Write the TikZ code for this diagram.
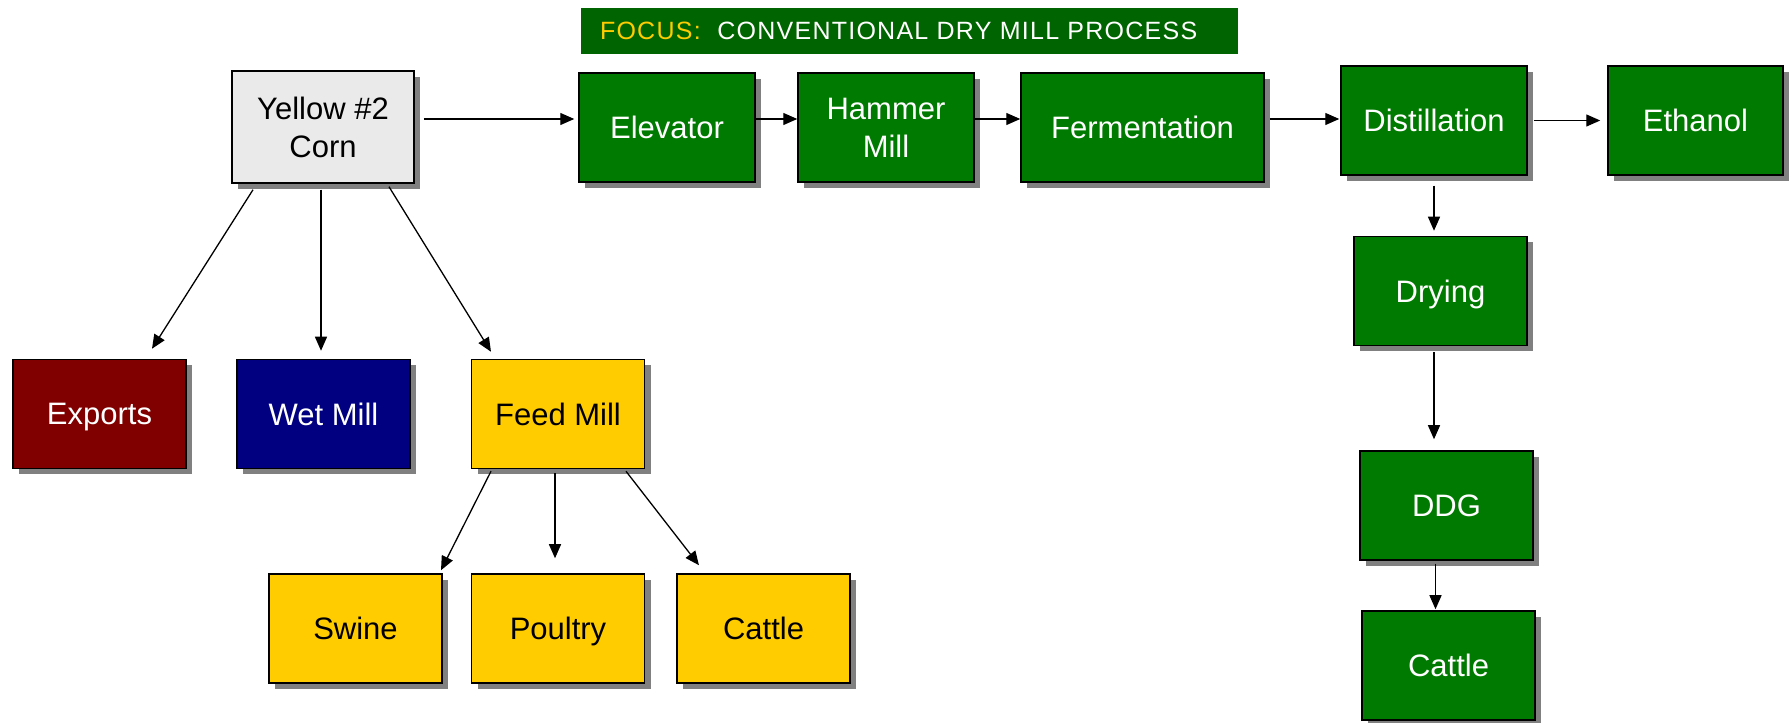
\documentclass[tikz,border=0pt]{standalone}
\usepackage{fontspec}
\setmainfont{Liberation Sans}
\usetikzlibrary{shadows,arrows.meta}
\definecolor{procgreen}{HTML}{007A00}
\definecolor{bannergreen}{HTML}{006400}
\definecolor{focusgold}{HTML}{FFCC00}
\definecolor{exportred}{HTML}{800000}
\definecolor{wetblue}{HTML}{000080}
\definecolor{feedyellow}{HTML}{FFCC00}
\definecolor{corngray}{HTML}{EAEAEA}
\definecolor{shadowgray}{HTML}{808080}
\begin{document}
\begin{tikzpicture}[x=1pt,y=1pt,
  box/.style={draw=black,line width=1.5pt,minimum width=173pt,minimum height=109pt,inner sep=0pt,align=center,text depth=0pt,
    font=\fontsize{31}{38}\selectfont,drop shadow={shadow xshift=6pt,shadow yshift=-6pt,fill=shadowgray,opacity=1}},
  greenbox/.style={box,fill=procgreen,text=white},
  feedbox/.style={box,fill=feedyellow,text=black},
  arr/.style={-{Triangle[length=14pt,width=12pt]},line width=1.3pt}]
\useasboundingbox (0,0) rectangle (1792,723);
\node[fill=bannergreen,text=white,minimum width=657pt,minimum height=46pt,inner xsep=19pt,inner ysep=0pt,text width=619pt,align=left,
  font=\fontsize{25}{30}\selectfont\addfontfeature{LetterSpace=5}] (banner) at (909.5,692) {{\color{focusgold}FOCUS:}\ \ CONVENTIONAL DRY MILL PROCESS};
\node[box,fill=corngray,minimum width=182pt,minimum height=112pt] (corn) at (323,596) {Yellow \#2\\Corn};
\node[greenbox,minimum width=176pt] (elev) at (667,595.5) {Elevator};
\node[greenbox,minimum width=176pt] (hammer) at (886,595.5) {Hammer\\Mill};
\node[greenbox,minimum width=243pt] (ferm) at (1142.5,595.5) {Fermentation};
\node[greenbox,minimum width=186pt] (distil) at (1434,602.5) {Distillation};
\node[greenbox,minimum width=175pt] (ethanol) at (1695.5,602.5) {Ethanol};
\node[greenbox] (drying) at (1440.5,432) {Drying};
\node[greenbox] (ddg) at (1446.5,217.5) {DDG};
\node[greenbox] (cattleG) at (1448.5,57.5) {Cattle};
\node[box,fill=exportred,text=white] (exports) at (99.5,309) {Exports};
\node[box,fill=wetblue,text=white] (wet) at (323.5,309) {Wet Mill};
\node[feedbox] (feed) at (558,309) {Feed Mill};
\node[feedbox] (swine) at (355.5,94.5) {Swine};
\node[feedbox] (poultry) at (558,94.5) {Poultry};
\node[feedbox] (cattleY) at (763.5,94.5) {Cattle};
\draw[arr] ([xshift=9pt,yshift=8pt]corn.east) -- ([xshift=-4pt,yshift=8.5pt]elev.west);
\draw[arr] ([yshift=8.5pt]elev.east) -- ([yshift=8.5pt]hammer.west);
\draw[arr] ([yshift=8.5pt]hammer.east) -- ([yshift=8.5pt]ferm.west);
\draw[arr] ([xshift=5pt,yshift=8.5pt]ferm.east) -- ([xshift=-1pt,yshift=1.5pt]distil.west);
\draw[arr] ([xshift=6pt]distil.east) -- ([xshift=-7pt]ethanol.west);
\draw[arr] ([yshift=-10pt]distil.south) -- ([xshift=-6.5pt,yshift=5pt]drying.north);
\draw[arr] ([xshift=-6.5pt,yshift=-6pt]drying.south) -- ([xshift=-12.5pt,yshift=11pt]ddg.north);
\draw[arr] ([xshift=-11pt,yshift=-3pt]ddg.south) -- ([xshift=-13pt,yshift=1pt]cattleG.north);
\draw[arr] ([xshift=-70pt,yshift=-6pt]corn.south) -- ([xshift=52.5pt,yshift=10pt]exports.north);
\draw[arr] ([xshift=-2pt,yshift=-6pt]corn.south) -- ([xshift=-2.5pt,yshift=8pt]wet.north);
\draw[arr] ([xshift=66pt,yshift=-3pt]corn.south) -- ([xshift=-67pt,yshift=7pt]feed.north);
\draw[arr] ([xshift=-67pt,yshift=-2pt]feed.south) -- ([xshift=85.5pt,yshift=3pt]swine.north);
\draw[arr] ([xshift=-3pt,yshift=-4pt]feed.south) -- ([xshift=-3pt,yshift=15pt]poultry.north);
\draw[arr] ([xshift=68pt,yshift=-2pt]feed.south) -- ([xshift=-64.5pt,yshift=8pt]cattleY.north);
\end{tikzpicture}
\end{document}
